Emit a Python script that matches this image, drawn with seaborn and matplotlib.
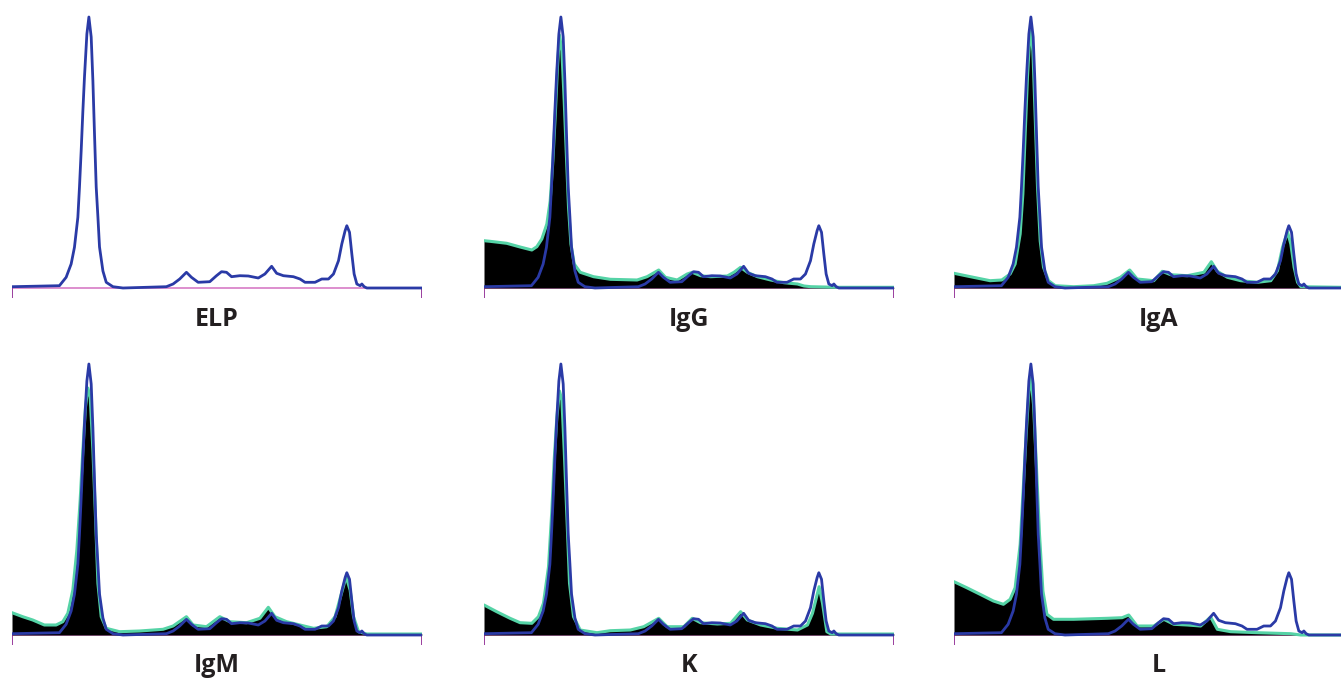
import numpy as np
import pandas as pd
import matplotlib
matplotlib.use("Agg")
import matplotlib.pyplot as plt
import seaborn as sns

# ---- Data (x = migration position, y = signal) ----
panel_names = ["ELP", "IgG", "IgA", "IgM", "K", "L"]

# Serum protein electrophoresis trace (same in every panel)
elp_x = [0, 47.3, 54, 59, 62.3, 65.7, 67.3, 69, 70.7, 72.3, 74.7, 76.7, 79, 80.7, 82.3, 84,
         85.7, 87.3, 90.7, 94, 100.7, 110.7, 154, 160.7, 167.3, 174, 179, 185.7, 197.3, 204,
         209, 214, 219, 227.3, 235.7, 245.7, 252.3, 259, 264, 270.7, 280.7, 287.3, 292.3,
         302.3, 309, 315.7, 320.7, 325.7, 329, 332.3, 334, 336.7, 339, 341.3, 344, 347.3,
         349, 351.3, 354, 409]
elp_y = [1.3, 2.3, 10.7, 24, 40.7, 70.7, 100.7, 137, 177, 211, 254, 271, 251, 207, 154, 101,
         71, 41, 17, 5.7, 1.3, 0, 1.3, 4, 9, 15.7, 10.7, 5.7, 6.3, 12.3,
         16.3, 15.7, 11.3, 12.3, 12, 10, 14, 21.7, 14.7, 12.3, 11.3, 9, 5.7,
         5.7, 9, 9, 14, 27.3, 44, 57.3, 62.3, 55.7, 34, 14, 4, 2.3,
         4, 1.3, 0, 0]

# Immunofixation traces
igg_x = [0, 6, 22.7, 36, 47.7, 52.7, 57.7, 62.7, 66, 68.7, 71, 73.3, 75.3, 77.7, 80, 82,
         84.3, 86.7, 90, 96, 109.3, 126, 152.7, 162.7, 174.3, 181, 192.7, 202.7, 207.7,
         216, 226, 242.7, 249.3, 256, 262.7, 272.7, 286, 299.3, 312.7, 319.3, 326, 352.7, 409]
igg_y = [47.3, 46.7, 44.7, 41, 38, 41.3, 49, 64, 87, 127, 171, 221, 253, 237, 187, 137,
         81, 44, 24, 15.7, 11.3, 8.7, 8, 11.3, 18, 10.7, 8, 14, 15.7,
         12.3, 11.3, 12, 15.7, 20.7, 15.7, 11.3, 8, 5.3, 4, 2, 1.3, 0.7, 0.7]

iga_x = [0, 19.3, 36, 47.7, 56, 61, 66, 68.7, 71, 73.3, 75.3, 76.7, 78.7, 81, 83.3, 86,
         89.3, 94.3, 101, 119.3, 139.3, 152.7, 166, 175.3, 182.7, 199.3, 207.7, 216, 232.7,
         249.3, 256.7, 262.7, 272.7, 286, 302.7, 316, 322.7, 327.7, 332.7, 336, 339.3, 342.7,
         346, 386, 409]
iga_y = [14.7, 10.7, 7.3, 8, 14, 24, 54, 94, 154, 211, 247, 257, 237, 171, 101, 47,
         20.7, 7.3, 2.3, 1.3, 2.3, 4.7, 10.7, 18, 9, 7.3, 16.7, 13.3, 12.3,
         15.7, 26.3, 16.7, 10.7, 7.3, 5.7, 7.3, 17.3, 40.7, 56, 44, 20.7, 5.7,
         1.3, 0.7, 0.7]

igm_x = [0, 10.7, 20.7, 32.3, 44, 50.7, 55.7, 60.7, 64.7, 68, 70.7, 73.3, 75.7, 78, 80.7,
         83.3, 85.7, 89, 94, 107.3, 127.3, 150.7, 160.7, 174, 180.7, 194, 207.3, 217.3,
         234, 247.3, 255.7, 262.3, 274, 287.3, 300.7, 314, 322.3, 327.3, 333.3, 337.3, 340.7,
         345.7, 354, 409]
igm_y = [22.3, 18.3, 15, 10, 10, 13.3, 21.7, 45, 85, 135, 185, 228, 247, 238, 185,
         118, 51.7, 18.3, 6.7, 3.3, 4, 5.7, 9, 18.3, 10, 8.3, 18.3, 13.3,
         12.3, 16.7, 27.7, 18.3, 13.3, 10, 6.7, 8.3, 18.3, 36.7, 58.3, 45, 18.3,
         3.3, 1, 1]

k_x = [0, 12.7, 26, 36, 47.7, 54.3, 59.3, 64.3, 67.7, 70, 72.7, 75.3, 77.7, 80, 82.7, 85.3,
       89.3, 96, 112.7, 126, 146, 159.3, 174.3, 182.7, 199.3, 207.7, 216, 232.7, 246,
       256, 262.7, 276, 292.7, 312.7, 322.7, 327.7, 334.3, 337.7, 342, 346, 409]
k_y = [30, 23.3, 16.7, 12.3, 11.7, 18.3, 31.7, 68, 125, 175, 218, 244, 235, 185, 118, 51.7,
       18.3, 5, 2.3, 4.3, 5, 8.3, 16.7, 8.3, 8.3, 16.7, 12.3, 11, 11.7,
       23.3, 15, 10, 6.7, 5, 10, 21.7, 48.3, 31.7, 3.3, 1, 1]

l_x = [0, 12.7, 26, 39.3, 49.3, 56, 61, 66, 69.3, 72, 74.7, 76.7, 79.3, 82, 85.3, 88.7,
       92.7, 99.3, 119.3, 152.7, 167.7, 174.3, 182.7, 199.3, 209.3, 219.3, 232.7, 246,
       256, 262.7, 276, 302.7, 336, 346, 409]
l_y = [53.3, 47.3, 40.7, 34, 30.7, 35.7, 47.3, 90.7, 150.7, 200.7, 244, 257, 230.7, 174,
       100.7, 44, 20.7, 15.7, 15.7, 16.7, 17.3, 20, 9, 9, 15.7, 10.7, 10, 9,
       18, 5.7, 3.3, 2.3, 1.3, 0, 0]

fix_traces = {
    "IgG": (igg_x, igg_y),
    "IgA": (iga_x, iga_y),
    "IgM": (igm_x, igm_y),
    "K": (k_x, k_y),
    "L": (l_x, l_y),
}

# ---- Style ----
sns.set_theme(style="white")
plt.rcParams["font.family"] = ["Open Sans", "DejaVu Sans"]

BLUE = "#2a3aa6"
GREEN = "#55d3a6"
BASE = "#d77bc6"
TICK = "#9a3e9e"
TEXT = "#231f20"

W, H = 1341, 683
fig = plt.figure(figsize=(W / 100, H / 100), dpi=100)

col_left = [12, 484, 954]
row_base = [288, 635]
panel_w = 410
ymax = 276
tick_len = 10

for i, name in enumerate(panel_names):
    r, c = divmod(i, 3)
    left = col_left[c]
    base = row_base[r]
    top = base - ymax
    bottom = base + tick_len
    ax = fig.add_axes([left / W, (H - bottom) / H, panel_w / W, (bottom - top) / H])
    ax.set_xlim(0, 409)
    ax.set_ylim(-tick_len, ymax)
    ax.axis("off")

    # baseline and end ticks
    ax.plot([0, 409], [0, 0], color=BASE, lw=1.2, zorder=1, solid_capstyle="butt")
    ax.plot([0, 0], [0, -tick_len], color=TICK, lw=1.4, zorder=1)
    ax.plot([409, 409], [0, -tick_len], color=TICK, lw=1.4, zorder=1)

    if name in fix_traces:
        fx, fy = fix_traces[name]
        ax.fill_between(fx, fy, 0, color="black", lw=0, zorder=2)
        df_f = pd.DataFrame({"x": fx, "y": fy})
        sns.lineplot(data=df_f, x="x", y="y", ax=ax, color=GREEN, lw=2.2,
                     sort=False, zorder=3)

    df_e = pd.DataFrame({"x": elp_x, "y": elp_y})
    sns.lineplot(data=df_e, x="x", y="y", ax=ax, color=BLUE, lw=2.0,
                 sort=False, zorder=4)
    ax.set_xlabel("")
    ax.set_ylabel("")

    label_y = 319 if r == 0 else 665
    fig.text((left + 205) / W, (H - label_y) / H, name, ha="center", va="center",
             fontsize=18, fontweight="bold", color=TEXT)

fig.savefig("out.png", dpi=100)
